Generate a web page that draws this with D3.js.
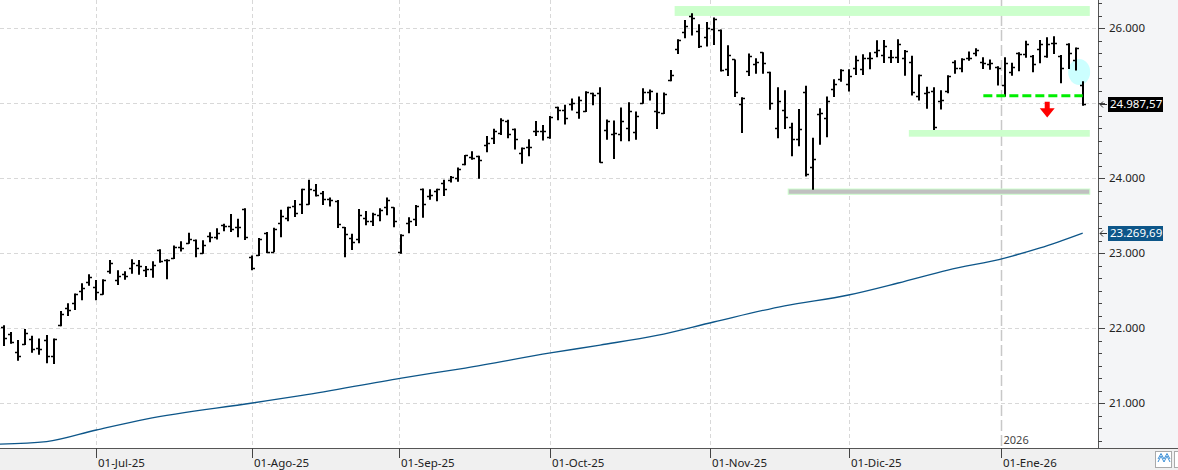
<!DOCTYPE html>
<html>
<head>
<meta charset="utf-8">
<script src="https://cdn.jsdelivr.net/npm/d3@7"></script>
<style>
  body { margin: 0; background: #fff; }
  svg { display: block; font-family: "Noto Sans", sans-serif; }
</style>
</head>
<body>
<div id="chart"></div>
<script>
// daily bars, one entry per trading day (index 0 = 11-Jun-25)
const opens = [22020,21925,21680,21785,21855,21740,21845,21630,22050,22275,22340,22495,22615,22555,22455,22770,22645,22725,22800,22845,
  22775,22785,23045,22905,22935,23080,23140,23175,23010,23230,23215,23375,23365,23345,23595,22955,22980,23265,23020,23400,
  23465,23630,23655,23655,23845,23810,23720,23700,23350,23200,23185,23465,23430,23510,23615,23615,23020,23400,23455,23855,
  23765,23830,23935,23980,24010,24185,24290,24300,24445,24535,24600,24765,24660,24335,24420,24635,24630,24545,24945,24910,
  24985,24890,24900,25135,25135,24645,24590,24590,24665,24620,25010,25155,24900,24875,25310,25720,25945,26170,25970,25890,
  25985,25975,25455,25585,24985,25430,25525,25680,25415,24665,24910,24680,24525,25145,24145,24855,24800,25185,25320,25255,
  25465,25455,25600,25680,25645,25615,25620,25610,25545,25095,25140,25170,25030,25165,25545,25465,25600,25665,25545,25525,
  25480,25245,25420,25665,25655,25630,25720,25630,25800,25635,25785,25575,25245];
const highs = [22040,21950,21845,21990,21900,21865,21910,21865,22230,22335,22465,22600,22720,22645,22655,22910,22775,22760,22920,22910,
  22830,22895,23055,22920,23105,23160,23275,23185,23175,23280,23335,23395,23525,23460,23600,22970,23205,23285,23340,23580,
  23620,23710,23860,23980,23925,23830,23745,23710,23350,23260,23590,23565,23540,23600,23745,23615,23255,23480,23645,23865,
  23855,23860,23980,24030,24145,24310,24360,24300,24565,24660,24800,24780,24665,24410,24520,24765,24710,24830,24955,24980,
  25065,25090,25160,25140,25215,24785,24770,24945,25015,24890,25200,25185,25140,25145,25445,25855,26110,26200,26055,26085,
  26145,25985,25775,25585,25080,25665,25600,25680,25420,25215,25175,24740,24925,25235,24540,24935,25090,25320,25455,25455,
  25635,25655,25680,25840,25845,25710,25855,25710,25635,25385,25220,25215,25175,25375,25575,25600,25690,25735,25615,25585,
  25495,25615,25540,25680,25835,25645,25845,25880,25895,25645,25800,25745,25295];
const lows = [21770,21800,21575,21785,21680,21655,21540,21530,22035,22170,22250,22380,22575,22380,22455,22735,22585,22655,22735,22720,
  22690,22680,22880,22660,22930,23030,23135,22955,23000,23155,23190,23300,23290,23220,23185,22780,22970,23010,23020,23220,
  23435,23490,23530,23655,23765,23650,23630,23345,22955,23050,23140,23380,23370,23435,23515,23355,23000,23275,23370,23480,
  23720,23700,23770,23950,23960,24180,24255,24000,24355,24465,24585,24540,24390,24200,24300,24570,24510,24535,24780,24725,
  24910,24800,24890,24980,24215,24520,24265,24500,24500,24520,25000,25045,24665,24865,25300,25665,25875,25910,25745,25765,
  25785,25430,25370,25090,24610,25370,25400,25400,24920,24540,24665,24300,24435,24030,23855,24455,24555,25090,25295,25165,
  25385,25385,25460,25620,25545,25545,25545,25375,25110,25045,24935,24650,24925,25140,25400,25420,25575,25635,25465,25455,
  25245,25095,25375,25435,25615,25420,25540,25615,25665,25275,25465,25445,24975];
const closes = [21865,21820,21630,21935,21720,21720,21630,21855,22185,22245,22455,22540,22680,22485,22645,22865,22695,22700,22865,22830,
  22785,22845,22895,22915,23090,23065,23190,23065,23110,23220,23275,23365,23325,23345,23220,22800,23195,23020,23325,23500,
  23615,23535,23855,23855,23780,23720,23710,23385,23260,23145,23505,23430,23525,23580,23710,23430,23240,23430,23635,23655,
  23780,23855,23860,24020,24120,24305,24275,24245,24475,24630,24780,24585,24520,24410,24420,24630,24630,24820,24910,24800,
  25000,25045,25145,25105,24220,24765,24600,24765,24900,24830,25155,25165,24890,25120,25375,25845,26030,26135,25760,26000,
  26120,25445,25645,25145,25065,25630,25545,25535,25000,25030,24815,24525,24655,24060,24255,24875,25030,25255,25445,25365,
  25575,25600,25600,25710,25770,25620,25785,25700,25155,25375,25155,24680,25045,25370,25475,25585,25610,25710,25535,25535,
  25465,25535,25480,25655,25790,25520,25790,25790,25810,25475,25665,25735,24987.57];

// 200-session average, read at a few bars
const maBars = [-1, 6, 13, 20, 35, 42, 56, 65, 77, 84, 92, 100, 110, 119, 126, 133, 141, 146, 152];
const maValues = [20455, 20490, 20644, 20790, 21004, 21105, 21337, 21470, 21671, 21777, 21905, 22084, 22300, 22444, 22604, 22777, 22937, 23071, 23269.69];

const monthLabels = ["01-Jun-25", "01-Jul-25", "01-Ago-25", "01-Sep-25", "01-Oct-25", "01-Nov-25", "01-Dic-25", "01-Ene-26"];
const monthBars = [-8.5, 13, 35, 55.6, 77, 99.5, 119, 140.5];
const yearLabel = "2026";

const yTicks = [21000, 22000, 23000, 24000, 25000, 26000];
const yLabelTicks = [21000, 22000, 23000, 24000, 26000];

// drawn levels: [fromBar, toBar, lowValue, highValue]
const resistanceBand = [95, 153, 26165, 26297];
const supportBand = [128, 153, 24555, 24644];
const lowBand = [111, 153, 23787, 23857];
const breakLine = [138, 152, 25100];
const arrowMark = [147, 25021, 24811];
const circleMark = [151.5, 25417];

const lastClose = 24987.57;
const lastMa = 23269.69;

const width = 1178, height = 470;
const plotRight = 1098, plotBottom = 448;
const maColor = "#0d5689";

const es = d3.formatLocale({ decimal: ",", thousands: ".", grouping: [3], currency: ["", " €"] });
const fmtAxis = es.format(",.0f");
const fmtLast = es.format(",.2f");

const svg = d3.select("#chart")
  .append("svg")
  .attr("width", width)
  .attr("height", height);

const x = d3.scaleLinear().domain([0, 152]).range([4, 1082.7]);
const y = d3.scaleLinear().domain([21000, 26000]).range([403.3, 28.3]);

// panels
svg.append("rect").attr("x", 0).attr("y", 0).attr("width", plotRight).attr("height", plotBottom).attr("fill", "#fff");
svg.append("rect").attr("x", plotRight).attr("y", 0).attr("width", width - plotRight).attr("height", plotBottom).attr("fill", "#f4f5f7");
svg.append("rect").attr("x", 0).attr("y", plotBottom).attr("width", width).attr("height", height - plotBottom).attr("fill", "#f0f0f0");

svg.append("defs").append("clipPath").attr("id", "plotclip")
  .append("rect").attr("x", 0).attr("y", 0).attr("width", plotRight).attr("height", plotBottom);

const plot = svg.append("g").attr("clip-path", "url(#plotclip)");

// grid
plot.selectAll(".hgrid")
  .data(yTicks)
  .enter()
  .append("line")
  .attr("x1", 0)
  .attr("x2", plotRight - 2)
  .attr("y1", d => Math.round(y(d)) + 0.5)
  .attr("y2", d => Math.round(y(d)) + 0.5)
  .style("stroke", "#d8d8d8")
  .style("stroke-dasharray", "4,3");

plot.selectAll(".vgrid")
  .data(monthBars.slice(0, -1))
  .enter()
  .append("line")
  .attr("x1", d => Math.round(x(d)) + 0.5)
  .attr("x2", d => Math.round(x(d)) + 0.5)
  .attr("y1", 0)
  .attr("y2", plotBottom)
  .style("stroke", "#d8d8d8")
  .style("stroke-dasharray", "4,3");

// year separator
const yearX = Math.round(x(monthBars[monthBars.length - 1])) + 0.5;
plot.append("line")
  .attr("x1", yearX).attr("x2", yearX)
  .attr("y1", 0).attr("y2", plotBottom)
  .style("stroke", "#c8c8c8")
  .style("stroke-width", 1.5)
  .style("stroke-dasharray", "11,4");

svg.append("text")
  .attr("x", yearX + 2)
  .attr("y", 444)
  .attr("fill", "#444")
  .style("font-size", "11px")
  .text(yearLabel);

// levels
function band(b, fill, stroke) {
  plot.append("rect")
    .attr("x", x(b[0] - 0.5))
    .attr("y", y(b[3]))
    .attr("width", x(b[1]) - x(b[0] - 0.5))
    .attr("height", y(b[2]) - y(b[3]))
    .attr("fill", fill)
    .attr("stroke", stroke || "none");
}
band(resistanceBand, "#ccffcc");
band(supportBand, "#ccffcc");
band(lowBand, "#c0c0c0", "#ccffcc");

plot.append("ellipse")
  .attr("cx", x(circleMark[0]))
  .attr("cy", y(circleMark[1]))
  .attr("rx", 11)
  .attr("ry", 13)
  .attr("fill", "#ccffff");

// moving average
const maLine = d3.line()
  .x((d, i) => x(maBars[i]))
  .y(d => y(d))
  .curve(d3.curveMonotoneX);

plot.append("path")
  .datum(maValues)
  .attr("d", maLine)
  .attr("fill", "none")
  .style("stroke", maColor)
  .style("stroke-width", 1.3);

// ohlc bars
const bars = plot.append("g");
opens.forEach((o, i) => {
  const cx = Math.round(x(i));
  bars.append("line")
    .attr("x1", cx).attr("x2", cx)
    .attr("y1", y(highs[i])).attr("y2", y(lows[i]) + 0.5)
    .style("stroke", "#000")
    .style("stroke-width", 2);
  bars.append("line")
    .attr("x1", cx - 3).attr("x2", cx)
    .attr("y1", Math.round(y(o)) + 0.5).attr("y2", Math.round(y(o)) + 0.5)
    .style("stroke", "#000")
    .style("stroke-width", 1.5);
  bars.append("line")
    .attr("x1", cx).attr("x2", cx + 3)
    .attr("y1", Math.round(y(closes[i])) + 0.5).attr("y2", Math.round(y(closes[i])) + 0.5)
    .style("stroke", "#000")
    .style("stroke-width", 1.5);
});

// breakdown line + arrow
plot.append("line")
  .attr("x1", x(breakLine[0]))
  .attr("x2", x(breakLine[1]))
  .attr("y1", y(breakLine[2]))
  .attr("y2", y(breakLine[2]))
  .style("stroke", "#00ee00")
  .style("stroke-width", 3)
  .style("stroke-dasharray", "9,4");

const ax = x(arrowMark[0]);
const aTop = y(arrowMark[1]);
const aTip = y(arrowMark[2]);
const aHead = aTop + (aTip - aTop) * 0.42;
plot.append("path")
  .attr("d", `M${ax - 2.5},${aTop} L${ax + 2.5},${aTop} L${ax + 2.5},${aHead} L${ax + 7.5},${aHead} L${ax},${aTip} L${ax - 7.5},${aHead} L${ax - 2.5},${aHead} Z`)
  .attr("fill", "#ff0000");

// right axis
const yAxisG = svg.append("g");
yAxisG.append("line")
  .attr("x1", plotRight + 0.5).attr("x2", plotRight + 0.5)
  .attr("y1", 0).attr("y2", plotBottom)
  .style("stroke", "#555");

const minorTicks = d3.range(20500, 26700, 1000 / 6);
yAxisG.selectAll(".minor")
  .data(minorTicks)
  .enter()
  .append("line")
  .attr("x1", plotRight).attr("x2", plotRight + 4)
  .attr("y1", d => Math.round(y(d)) + 0.5)
  .attr("y2", d => Math.round(y(d)) + 0.5)
  .style("stroke", "#444");

yAxisG.selectAll(".major")
  .data(yTicks)
  .enter()
  .append("line")
  .attr("x1", plotRight).attr("x2", plotRight + 7)
  .attr("y1", d => Math.round(y(d)) + 0.5)
  .attr("y2", d => Math.round(y(d)) + 0.5)
  .style("stroke", "#444");

yAxisG.selectAll(".ylab")
  .data(yLabelTicks)
  .enter()
  .append("text")
  .attr("x", 1109)
  .attr("y", d => y(d))
  .attr("dy", "0.36em")
  .attr("fill", "#222")
  .style("font-size", "11.5px")
  .text(d => fmtAxis(d));

function valueTag(v, bg) {
  const vy = y(v);
  yAxisG.append("rect")
    .attr("x", 1108).attr("y", Math.round(vy) - 7)
    .attr("width", 55).attr("height", 15)
    .attr("fill", bg);
  yAxisG.append("text")
    .attr("x", 1110).attr("y", vy)
    .attr("dy", "0.36em")
    .attr("fill", "#fff")
    .style("font-size", "11.5px")
    .text(fmtLast(v));
  yAxisG.append("path")
    .attr("d", `M${plotRight + 9},${Math.round(vy) + 0.5} L${plotRight + 2},${Math.round(vy) + 0.5} M${plotRight + 5},${Math.round(vy) - 2.5} L${plotRight + 2},${Math.round(vy) + 0.5} L${plotRight + 5},${Math.round(vy) + 3.5}`)
    .attr("fill", "none")
    .style("stroke", "#333");
}
valueTag(lastClose, "#000");
valueTag(lastMa, maColor);

// bottom axis
const xAxisG = svg.append("g");
xAxisG.append("line")
  .attr("x1", 0).attr("x2", width)
  .attr("y1", plotBottom + 0.5).attr("y2", plotBottom + 0.5)
  .style("stroke", "#555");

xAxisG.selectAll(".xtick")
  .data(monthBars)
  .enter()
  .append("line")
  .attr("x1", d => Math.round(x(d)) + 0.5)
  .attr("x2", d => Math.round(x(d)) + 0.5)
  .attr("y1", plotBottom)
  .attr("y2", plotBottom + 10)
  .style("stroke", "#444");

xAxisG.selectAll(".xlab")
  .data(monthLabels)
  .enter()
  .append("text")
  .attr("x", (d, i) => Math.round(x(monthBars[i])) + 2)
  .attr("y", 467)
  .attr("fill", "#222")
  .style("font-size", "11.5px")
  .text(d => d);

// corner buttons
svg.append("rect").attr("x", 1155.5).attr("y", 451.5).attr("width", 16).attr("height", 16)
  .attr("fill", "#fff").attr("stroke", "#aaa");
svg.append("path")
  .attr("d", "M1158,462 L1161,456 L1164,462 L1167,456 L1170,462 M1158,459 L1161,453.5 L1164,459 L1167,453.5 L1170,459")
  .attr("fill", "none").style("stroke", "#3b8fd6");
svg.append("rect").attr("x", 1174.5).attr("y", 451.5).attr("width", 10).attr("height", 16)
  .attr("fill", "#fff").attr("stroke", "#aaa");
</script>
</body>
</html>
